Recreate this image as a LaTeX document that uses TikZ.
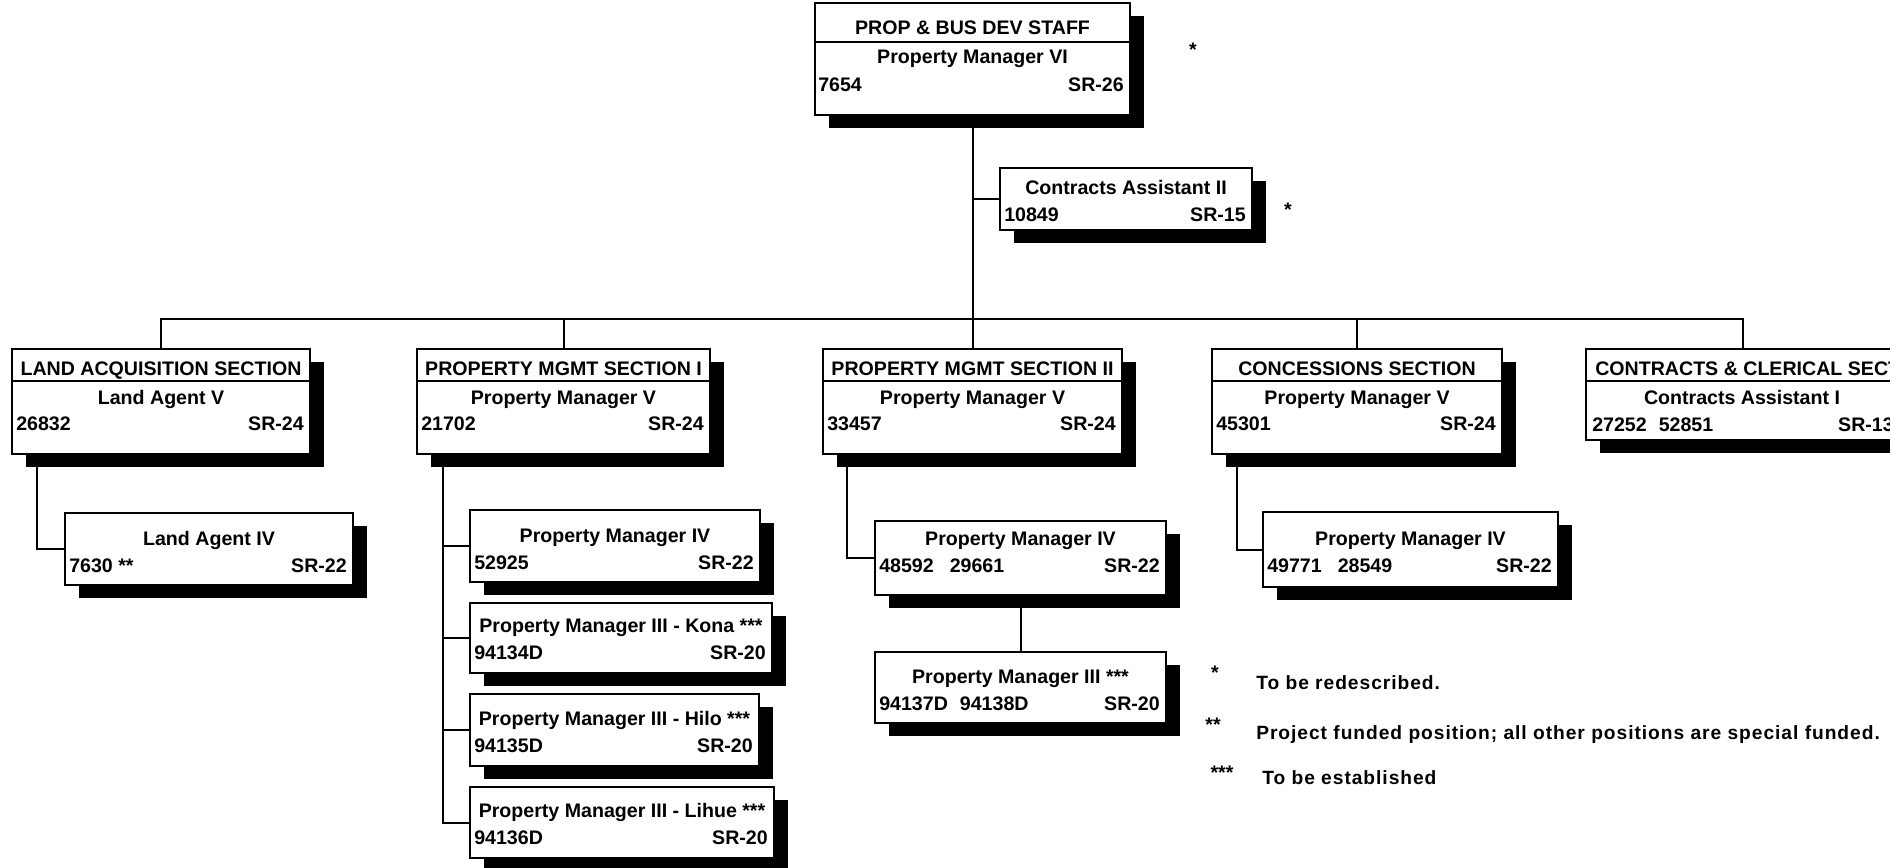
\documentclass[tikz,border=0pt]{standalone}
\usepackage{fontspec}
\setmainfont{Liberation Sans}
\newfontfamily\legendfont[LetterSpace=5]{Liberation Sans}
\usetikzlibrary{shadows}

\newcommand\posbox[9]{%
  \node[box, minimum width={(#4-#2)*0.75pt}, minimum height={(#5-#3)*0.75pt}] (#1) at (#2,#3) {};
  \node[txt] (#1-t) at ({(#2+#4)/2},{#3+#6}) {#7};
  \node[txt, anchor=west] (#1-n) at ({#2+4},{#3+#6+27}) {#8};
  \node[txt, anchor=east] (#1-g) at ({#4-6},{#3+#6+27}) {#9};
}
\newcommand\secbox[8]{%
  \node[box, minimum width={(#3-#2)*0.75pt}, minimum height={(#4-349)*0.75pt}] (#1) at (#2,349) {};
  \draw[band] (#2,381) -- (#3,381);
  \node[txt] (#1-s) at ({(#2+#3)/2},368) {#5};
  \node[txt] (#1-t) at ({(#2+#3)/2},397) {#6};
  \node[txt, anchor=west] (#1-n) at ({#2+4},423) {#7};
  \node[txt, anchor=east] (#1-g) at ({#3-6},423) {#8};
}

\begin{document}
\begin{tikzpicture}[x=0.75pt,y=-0.75pt,
  box/.style={draw, line width=1.4pt, fill=white, anchor=north west, inner sep=0pt, outer sep=0pt,
    drop shadow={shadow xshift=10.5pt, shadow yshift=-9.75pt, opacity=1, fill=black}},
  txt/.style={inner sep=0pt, text height=10.5pt, text depth=0pt, font=\fontsize{14.7pt}{17pt}\selectfont\bfseries},
  leg/.style={inner sep=0pt, text height=10.3pt, text depth=0pt, anchor=west, font=\legendfont\fontsize{14.4pt}{17pt}\selectfont\bfseries},
  conn/.style={line width=1.5pt},
  band/.style={line width=1.4pt}]
\useasboundingbox (0,0) rectangle (1890,867);
\clip (0,0) rectangle (1890,867);

% top box
\node[box, minimum width={315*0.75pt}, minimum height={112*0.75pt}] (top) at (815,3) {};
\draw[band] (815,42) -- (1130,42);
\node[txt] (top-s) at (972.5,28) {PROP \& BUS DEV STAFF};
\node[txt] (top-t) at (972.5,57) {Property Manager VI};
\node[txt, anchor=west] (top-n) at (818,85) {7654};
\node[txt, anchor=east] (top-g) at (1124,85) {SR-26};
\node[txt] (ast1) at (1193,49) {*};

\posbox{ca2}{1000}{168}{1252}{230}{19}{Contracts Assistant II}{10849}{SR-15}
\node[txt] (ast2) at (1288,209) {*};

% sections
\secbox{land}{12}{310}{454}{LAND ACQUISITION SECTION}{Land Agent V}{26832}{SR-24}
\secbox{pm1}{417}{710}{454}{PROPERTY MGMT SECTION I}{Property Manager V}{21702}{SR-24}
\secbox{pm2}{823}{1122}{454}{PROPERTY MGMT SECTION II}{Property Manager V}{33457}{SR-24}
\secbox{conc}{1212}{1502}{454}{CONCESSIONS SECTION}{Property Manager V}{45301}{SR-24}

\node[box, minimum width={314*0.75pt}, minimum height={91*0.75pt}] (contracts) at (1586,349) {};
\draw[band] (1586,381) -- (1900,381);
\node[txt, anchor=west] (contracts-s) at (1595,368) {CONTRACTS \& CLERICAL SECTION};
\node[txt] (contracts-t) at (1742,397) {Contracts Assistant I};
\node[txt, anchor=west] (contracts-n) at (1592,424) {27252\hspace{9pt}52851};
\node[txt, anchor=east] (contracts-g) at (1894,424) {SR-13};

% children
\posbox{la4}{65}{513}{353}{585}{25}{Land Agent IV}{7630 **}{SR-22}
\posbox{pm1a}{470}{510}{760}{582}{25}{Property Manager IV}{52925}{SR-22}
\posbox{kona}{470}{603}{772}{673}{22}{Property Manager III - Kona ***}{94134D}{SR-20}
\posbox{hilo}{470}{694}{759}{766}{24}{Property Manager III - Hilo ***}{94135D}{SR-20}
\posbox{lihue}{470}{787}{774}{858}{23}{Property Manager III - Lihue ***}{94136D}{SR-20}
\posbox{pm2a}{875}{521}{1166}{595}{17}{Property Manager IV}{48592\hspace{12pt}29661}{SR-22}
\posbox{pm3}{875}{652}{1166}{723}{24}{Property Manager III ***}{94137D\hspace{9pt}94138D}{SR-20}
\posbox{conca}{1263}{512}{1558}{587}{26}{Property Manager IV}{49771\hspace{12pt}28549}{SR-22}

% connectors
\coordinate (busy) at (0,319);
\draw[conn] (top.south) -- (top.south |- busy);
\draw[conn] (land.north) |- (contracts.north |- busy) -- (contracts.north);
\draw[conn] (pm1.north) -- (pm1.north |- busy);
\draw[conn] (pm2.north) -- (pm2.north |- busy);
\draw[conn] (conc.north) -- (conc.north |- busy);
\draw[conn] (ca2.west) -- (ca2.west -| top.south);

\coordinate (tl) at ([xshift=18.75pt]land.south west);
\draw[conn] (tl) |- (la4.west);
\coordinate (t1) at ([xshift=19.5pt]pm1.south west);
\draw[conn] (t1) |- (lihue.west);
\draw[conn] (pm1a.west) -- (pm1a.west -| t1);
\draw[conn] (kona.west) -- (kona.west -| t1);
\draw[conn] (hilo.west) -- (hilo.west -| t1);
\coordinate (t2) at ([xshift=18pt]pm2.south west);
\draw[conn] (t2) |- (pm2a.west);
\draw[conn] (pm2a.south) -- (pm3.north);
\coordinate (t3) at ([xshift=18.75pt]conc.south west);
\draw[conn] (t3) |- (conca.west);

% legend
\node[txt] (leg1s) at (1215,672) {*};
\node[leg] (leg1) at (1256,683) {To be redescribed.};
\node[txt] (leg2s) at (1213,724) {**};
\node[leg] (leg2) at (1256,733) {Project funded position; all other positions are special funded.};
\node[txt] (leg3s) at (1222,772) {***};
\node[leg] (leg3) at (1262,778) {To be established};
\end{tikzpicture}
\end{document}
